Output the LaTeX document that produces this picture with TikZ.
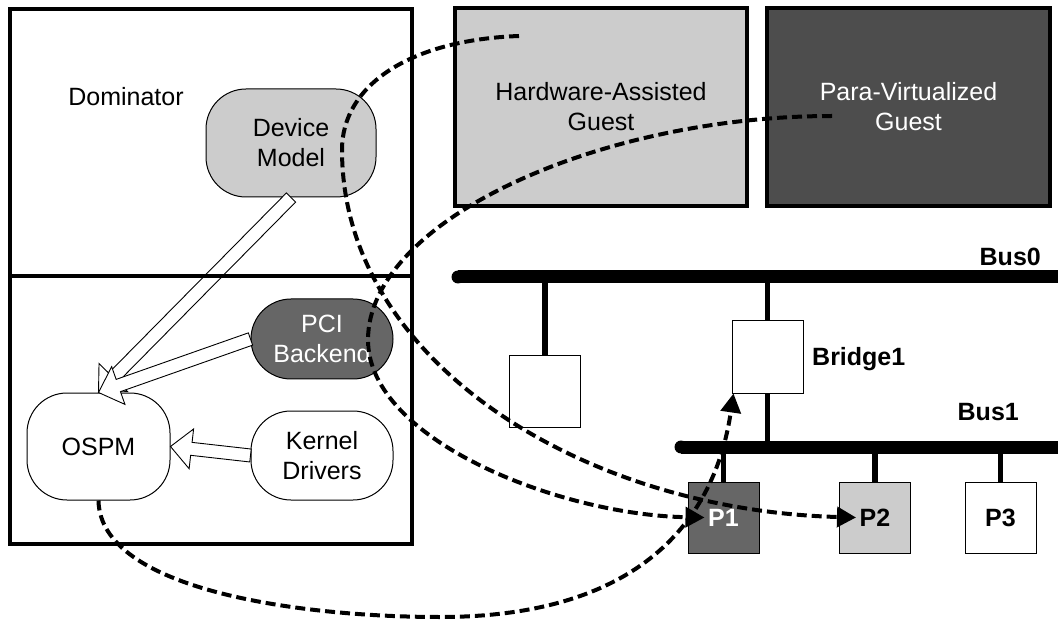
\documentclass[tikz,border=0pt]{standalone}
\usepackage{fontspec}
\setmainfont{Liberation Sans}
\usetikzlibrary{calc,arrows.meta}
\definecolor{lightg}{HTML}{CCCCCC}
\definecolor{midg}{HTML}{666666}
\definecolor{darkg}{HTML}{4D4D4D}
\newcommand{\hollowarrow}[2]{%
  \coordinate (ha-b) at ($(#2)!21pt!(#1)$);
  \draw[hollow] ($(#1)!6.5pt!90:(#2)$) -- ($(ha-b)!6.5pt!-90:(#1)$) -- ($(ha-b)!20pt!-90:(#1)$) -- (#2)
     -- ($(ha-b)!20pt!90:(#1)$) -- ($(ha-b)!6.5pt!90:(#1)$) -- ($(#1)!6.5pt!-90:(#2)$) -- cycle;}
\begin{document}
\begin{tikzpicture}[x=1pt,y=-1pt,
  every node/.style={font=\fontsize{25}{30}\selectfont, inner sep=0pt, align=center},
  bigbox/.style={draw, line width=3.5pt},
  roundbox/.style={draw, line width=1pt, rounded corners=40pt},
  smallbox/.style={draw, line width=1pt, minimum width=71pt, minimum height=71pt},
  hollow/.style={draw, fill=white, line width=0.9pt, line join=miter},
  bus/.style={line width=13pt},
  stem/.style={line width=5.5pt},
  dcurve/.style={line width=4pt, dash pattern=on 10pt off 5pt, -{Triangle[length=19pt,width=20pt]}},
  lbl/.style={font=\fontsize{25}{30}\selectfont\bfseries}]
\useasboundingbox (0,0) rectangle (1058,620);
% Dominator container
\node[bigbox, minimum width=402pt, minimum height=535pt] (dom) at (211,276.5) {};
\coordinate (divy) at (0,276);
\node (domlbl) at (126,97) {Dominator};
% guests
\node[bigbox, fill=lightg, minimum width=292pt, minimum height=198pt] (ha) at (601,107) {Hardware-Assisted\\Guest};
\node[bigbox, fill=darkg, text=white, minimum width=283pt, minimum height=198pt] (pv) at (908.5,107) {Para-Virtualized\\Guest};
% rounded nodes
\node[roundbox, fill=lightg, minimum width=170pt, minimum height=108pt] (dm) at (291,143) {Device\\Model};
\node[roundbox, fill=midg, text=white, minimum width=142pt, minimum height=80pt] (pci) at (322,339) {PCI\\Backend};
\node[roundbox, fill=white, minimum width=142pt, minimum height=89pt] (kd) at (322,455.5) {Kernel\\Drivers};
\node[roundbox, fill=white, minimum width=143pt, minimum height=107pt] (ospm) at (98.5,446.5) {OSPM};
% hollow arrows
\hollowarrow{dm.south}{ospm.north}
\hollowarrow{pci.west}{ospm.north}
\hollowarrow{kd.west}{ospm.east}
\draw[line width=3.5pt] (dom.west |- divy) -- (dom.east |- divy);
% buses
\coordinate (b0L) at (458,277);
\coordinate (b0R) at (1058,277);
\coordinate (b1L) at (681,447);
\coordinate (b1R) at (1058,447);
\node[smallbox, fill=white, minimum height=71pt] (lb) at (545,391.5) {};
\node[smallbox, fill=white, minimum height=72pt] (br) at (767.5,357) {};
\node[smallbox, fill=midg, text=white, lbl] (p1) at (723.5,517.5) {P1};
\node[smallbox, fill=lightg, lbl] (p2) at (875,517.5) {P2};
\node[smallbox, fill=white, lbl] (p3) at (1000.5,517.5) {P3};
\draw[stem] (lb.north) -- (lb.north |- b0L);
\draw[stem] (br.north) -- (br.north |- b0L);
\draw[stem] (br.south) -- (br.south |- b1L);
\draw[stem] (p1.north) -- (p1.north |- b1L);
\draw[stem] (p2.north) -- (p2.north |- b1L);
\draw[stem] (p3.north) -- (p3.north |- b1L);
\draw[bus, line cap=butt] (b0L) -- (b0R);
\fill (b0L) circle (6.5pt);
\draw[bus, line cap=butt] (b1L) -- (b1R);
\fill (b1L) circle (6.5pt);
\node[lbl, anchor=east] (bus0lbl) at (1041,257) {Bus0};
\node[lbl, anchor=east] (bus1lbl) at (1019,412) {Bus1};
\node[lbl, anchor=west] (brlbl) at (812,359) {Bridge1};
% dashed curves
\coordinate (cA) at (519,36);
\coordinate (cB) at (832,116);
\coordinate (p1tip) at ($(p1.west)+(17,0)$);
\coordinate (p2tip) at ($(p2.west)+(17,0)$);
\coordinate (brtip) at ($(br.south west)+(2,0)$);
\draw[dcurve] (cA) .. controls (410,40) and (342,85) .. (342,150) .. controls (342,360) and (580,510) .. (p2tip);
\draw[dcurve] (cB) .. controls (600,116) and (368,220) .. (368,340) .. controls (368,440) and (560,515) .. (p1tip);
\draw[dcurve] (ospm.south) .. controls (100,590) and (300,617) .. (440,617) .. controls (640,617) and (715,520) .. (brtip);
\end{tikzpicture}
\end{document}
